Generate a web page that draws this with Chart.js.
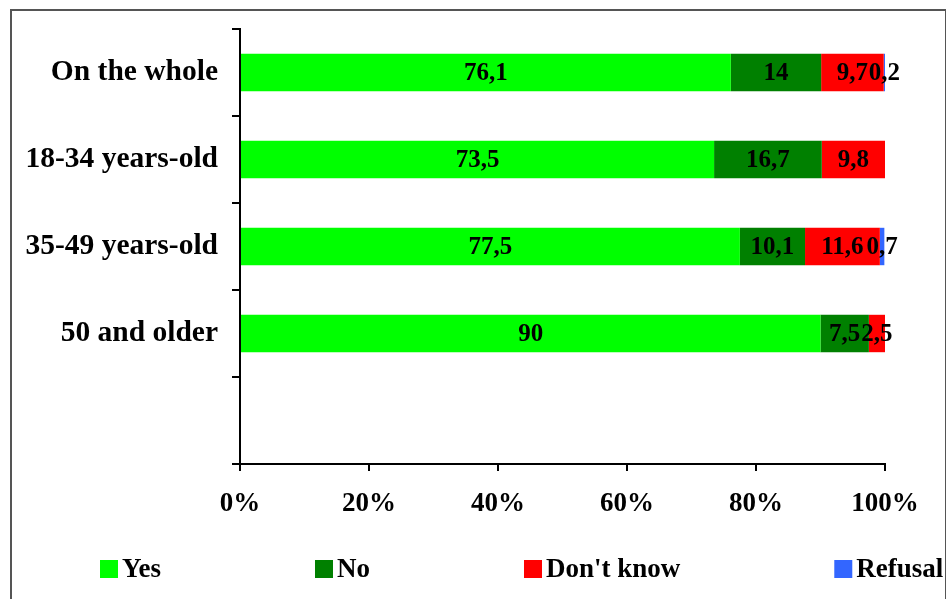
<!DOCTYPE html>
<html>
<head>
<meta charset="utf-8">
<script src="https://cdn.jsdelivr.net/npm/chart.js@4/dist/chart.umd.min.js"></script>
<style>
    body { margin: 0; background: #fff; }
    #wrap { position: relative; width: 946px; height: 599px; }
    #frame { position: absolute; left: 10px; top: 9px; width: 933px; height: 600px;
             border: 2px solid #555; border-bottom: none; pointer-events: none; }
    canvas { position: absolute; left: 0; top: 0; }
</style>
</head>
<body>
<div id="wrap">
    <canvas id="chart" width="946" height="599"></canvas>
    <div id="frame"></div>
</div>
<script>
// categories (last slot is empty in the original)
var groups = ["On the whole", "18-34 years-old", "35-49 years-old", "50 and older", ""];

// series values, percent
var yes_values = [76.1, 73.5, 77.5, 90, null];
var no_values = [14, 16.7, 10.1, 7.5, null];
var dont_know_values = [9.7, 9.8, 11.6, 2.5, null];
var refusal_values = [0.2, null, 0.7, null, null];

var x_ticks = [0, 20, 40, 60, 80, 100];

var FONT = "'Liberation Serif', 'Times New Roman', serif";

// writes the value in the middle of every bar piece
var valueLabels = {
    id: 'valueLabels',
    afterDatasetsDraw: function (chart) {
        var ctx = chart.ctx;
        ctx.save();
        ctx.font = "bold 25px " + FONT;
        ctx.fillStyle = "#000";
        ctx.textAlign = "center";
        ctx.textBaseline = "middle";
        chart.data.datasets.forEach(function (ds, di) {
            var meta = chart.getDatasetMeta(di);
            meta.data.forEach(function (bar, i) {
                var v = ds.data[i];
                if (v === null || v === undefined) return;
                var cx = (bar.x + bar.base) / 2;
                ctx.fillText(String(v).replace('.', ','), cx, bar.y + 1);
            });
        });
        ctx.restore();
    }
};

// legend laid out in one row under the axis
var bottomLegend = {
    id: 'bottomLegend',
    afterDraw: function (chart) {
        var ctx = chart.ctx;
        ctx.save();
        ctx.font = "bold 27px " + FONT;
        ctx.fillStyle = "#000";
        ctx.textBaseline = "middle";
        var x = 100;
        var y = 569;
        chart.data.datasets.forEach(function (ds) {
            ctx.fillStyle = ds.backgroundColor;
            ctx.fillRect(x, y - 9, 18, 18);
            ctx.fillStyle = "#000";
            ctx.fillText(ds.label, x + 22, y + 1);
            x += 22 + ctx.measureText(ds.label).width + 154;
        });
        ctx.restore();
    }
};

var chart = new Chart(document.getElementById("chart"), {
    type: 'bar',
    data: {
        labels: groups,
        datasets: [
            {label: "Yes", data: yes_values, backgroundColor: "#00FF00"},
            {label: "No", data: no_values, backgroundColor: "#008000"},
            {label: "Don't know", data: dont_know_values, backgroundColor: "#FF0000"},
            {label: "Refusal", data: refusal_values, backgroundColor: "#3366FF"}
        ]
    },
    options: {
        indexAxis: 'y',
        responsive: false,
        animation: false,
        datasets: {
            bar: {categoryPercentage: 1, barPercentage: 0.43, borderWidth: 0}
        },
        layout: {padding: {left: 0, right: 61, top: 29, bottom: 75}},
        scales: {
            x: {
                type: 'linear',
                stacked: true,
                min: 0,
                max: 100,
                afterBuildTicks: function (scale) {
                    scale.ticks = x_ticks.map(function (v) { return {value: v}; });
                },
                afterFit: function (scale) {
                    scale.height = 60;
                    scale.paddingLeft = 0;
                    scale.paddingRight = 0;
                },
                grid: {drawOnChartArea: false, drawTicks: true, tickLength: 7, color: "#000", lineWidth: 2},
                border: {display: true, color: "#000", width: 2},
                ticks: {
                    color: "#000",
                    padding: 17,
                    maxRotation: 0,
                    font: {family: FONT, size: 27, weight: 'bold'},
                    callback: function (v) { return v + "%"; }
                }
            },
            y: {
                stacked: true,
                afterFit: function (scale) {
                    scale.width = 240;
                    scale.paddingTop = 0;
                    scale.paddingBottom = 0;
                },
                grid: {drawOnChartArea: false, drawTicks: true, tickLength: 8, color: "#000", lineWidth: 2, offset: true},
                border: {display: true, color: "#000", width: 2},
                ticks: {
                    color: "#000",
                    padding: 14,
                    font: {family: FONT, size: 29.5, weight: 'bold'}
                }
            }
        },
        plugins: {
            legend: {display: false},
            tooltip: {enabled: false}
        }
    },
    plugins: [valueLabels, bottomLegend]
});
</script>
</body>
</html>
